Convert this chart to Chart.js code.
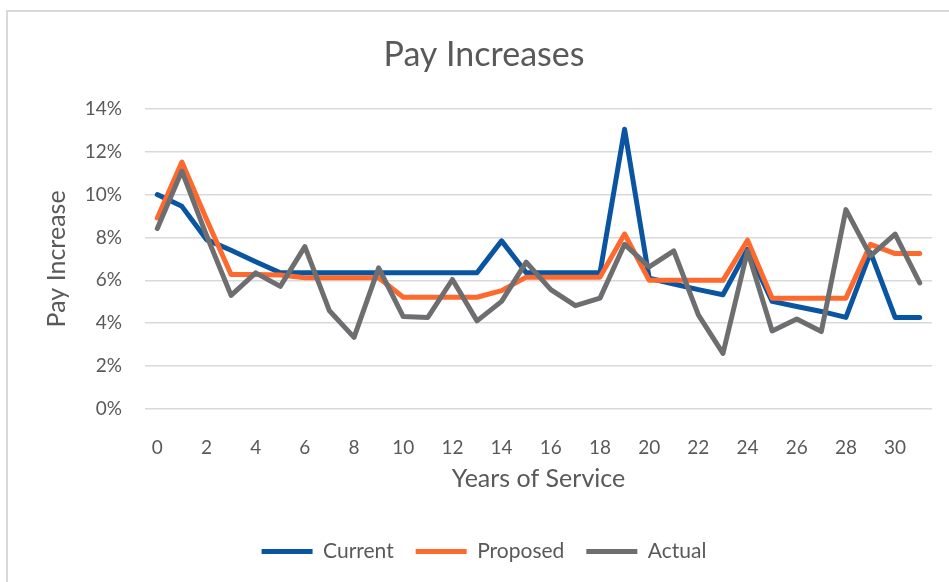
<!DOCTYPE html>
<html>
<head>
<meta charset="utf-8">
<script src="https://cdn.jsdelivr.net/npm/chart.js@4"></script>
<style>
  html, body { margin: 0; padding: 0; background: #fff; }
  #frame {
    position: absolute; left: 6px; top: 10px; width: 980px; height: 600px;
    border: 2px solid #d9d9d9;
  }
  #wrap { position: absolute; left: 0; top: 0; width: 949px; height: 582px; }
</style>
</head>
<body>
<div id="frame"></div>
<div id="wrap"><canvas id="payChart" width="949" height="582"></canvas></div>
<script>
// years of service 0..31
const years = [0, 1, 2, 3, 4, 5, 6, 7, 8, 9, 10, 11, 12, 13, 14, 15,
  16, 17, 18, 19, 20, 21, 22, 23, 24, 25, 26, 27, 28, 29, 30, 31];

// pay increase in percent
const current = [10.0, 9.45, 7.9, 7.4, 6.87, 6.35, 6.35, 6.35, 6.35, 6.35, 6.35,
  6.35, 6.35, 6.35, 7.84, 6.35, 6.35, 6.35, 6.35, 13.05, 6.1, 5.83, 5.57, 5.33,
  7.45, 5.02, 4.78, 4.55, 4.27, 7.3, 4.27, 4.27];
const proposed = [8.91, 11.52, 8.85, 6.27, 6.27, 6.25, 6.12, 6.12, 6.12, 6.12, 5.21,
  5.21, 5.21, 5.21, 5.52, 6.15, 6.15, 6.15, 6.15, 8.16, 6.0, 6.0, 6.0, 6.0,
  7.87, 5.17, 5.17, 5.17, 5.17, 7.68, 7.25, 7.25];
const actual = [8.42, 11.1, 8.1, 5.3, 6.35, 5.72, 7.57, 4.58, 3.34, 6.58, 4.31,
  4.27, 6.04, 4.11, 5.02, 6.85, 5.57, 4.82, 5.17, 7.68, 6.63, 7.37, 4.39, 2.59,
  7.37, 3.64, 4.2, 3.61, 9.3, 7.14, 8.16, 5.88];

const yTicks = [0, 2, 4, 6, 8, 10, 12, 14];

const textColor = "#595959";
const fontFamily = "Lato, 'Open Sans', sans-serif";

function serie(label, data, color, order) {
  return {
    label: label,
    data: data,
    borderColor: color,
    backgroundColor: color,
    borderWidth: 5,
    borderCapStyle: "round",
    borderJoinStyle: "round",
    pointRadius: 0,
    pointHoverRadius: 0,
    tension: 0,
    fill: false,
    order: order,
  };
}

const ctx = document.getElementById("payChart").getContext("2d");

new Chart(ctx, {
  type: "line",
  data: {
    labels: years,
    datasets: [
      serie("Current", current, "#0a55a1", 3),
      serie("Proposed", proposed, "#fe6a2e", 2),
      serie("Actual", actual, "#6e6e71", 1),
    ],
  },
  options: {
    responsive: false,
    animation: false,
    layout: { padding: { left: 36, right: 17, top: 0, bottom: 10 } },
    plugins: {
      tooltip: { enabled: false },
      title: {
        display: true,
        text: "Pay Increases",
        color: textColor,
        font: { family: fontFamily, size: 34, weight: "normal" },
        padding: { top: 35, bottom: 33 },
      },
      legend: {
        position: "bottom",
        labels: {
          color: textColor,
          font: { family: fontFamily, size: 21 },
          usePointStyle: true,
          pointStyle: "line",
          pointStyleWidth: 51,
          padding: 22,
          sort: (a, b) => a.datasetIndex - b.datasetIndex,
        },
      },
    },
    scales: {
      x: {
        offset: true,
        grid: { display: false },
        border: { display: false },
        ticks: {
          color: textColor,
          font: { family: fontFamily, size: 19 },
          autoSkip: false,
          maxRotation: 0,
          padding: 19,
          callback: function (value, index) {
            return years[index] % 2 === 0 ? String(years[index]) : "";
          },
        },
        title: {
          display: true,
          text: "Years of Service",
          color: textColor,
          font: { family: fontFamily, size: 25 },
          padding: { top: 13, bottom: 25 },
        },
        afterFit: (scale) => { scale.height = 110; },
      },
      y: {
        min: 0,
        max: 14,
        afterBuildTicks: (scale) => {
          scale.ticks = yTicks.map((v) => ({ value: v }));
        },
        grid: { color: "#d9d9d9", lineWidth: 1.5, drawTicks: false },
        border: { display: false },
        ticks: {
          color: textColor,
          font: { family: fontFamily, size: 19 },
          padding: 23,
          callback: (v) => v + "%",
        },
        title: {
          display: true,
          text: "Pay Increase",
          color: textColor,
          font: { family: fontFamily, size: 25 },
          padding: { top: 6, bottom: 0 },
        },
        afterFit: (scale) => { scale.width = 109; },
      },
    },
  },
});
</script>
</body>
</html>
